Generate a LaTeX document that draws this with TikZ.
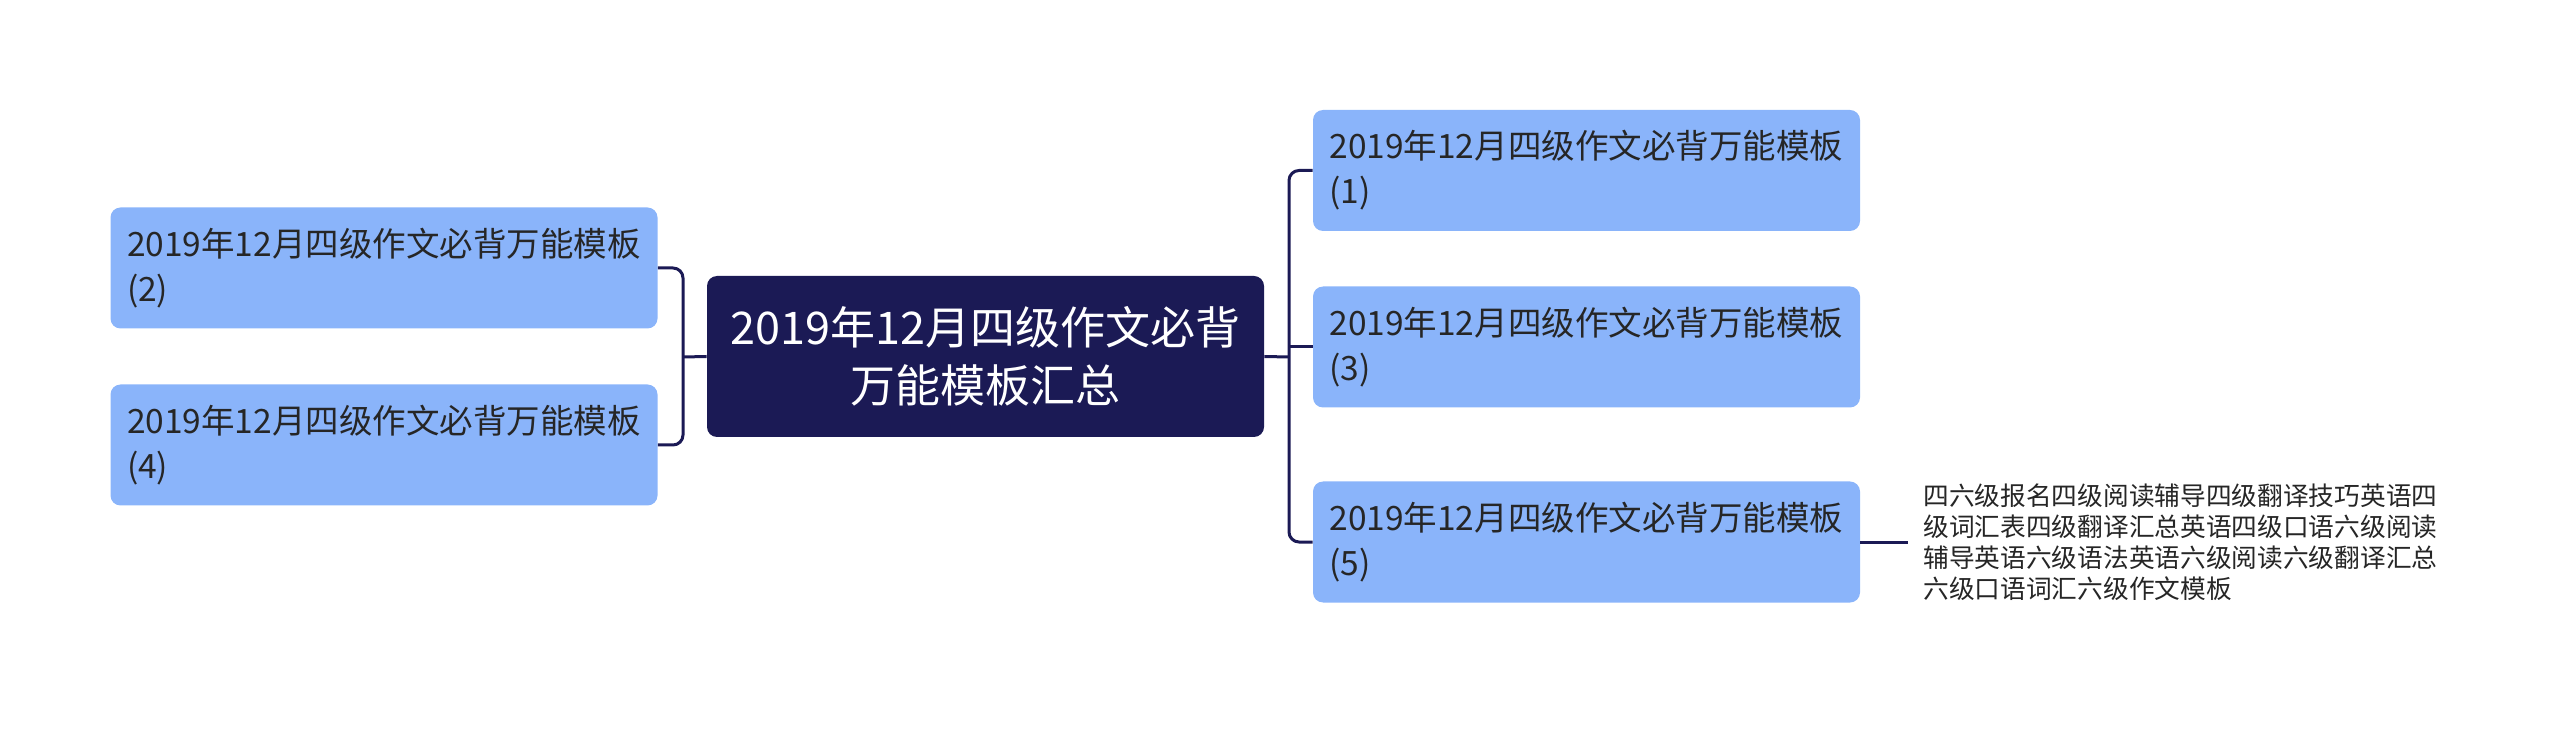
\documentclass[tikz,border=0pt]{standalone}
\usepackage{tikz}
\usepackage{fontspec}
\newfontfamily\cjk{Noto Sans CJK SC}
\definecolor{navy}{HTML}{1B1A55}
\definecolor{lightblue}{HTML}{8AB4FA}
\definecolor{inkgray}{HTML}{262626}

\begin{document}
\begin{tikzpicture}[x=0.5pt, y=-0.5pt,
  topicbox/.style={fill=navy, text=white, rounded corners=5pt, align=center,
    minimum width=278.5pt, minimum height=80.5pt, inner sep=0pt,
    font=\cjk\fontsize{22.5pt}{29pt}\selectfont},
  subbox/.style={fill=lightblue, text=inkgray, rounded corners=5pt, align=left,
    text width=257pt, inner xsep=8.25pt, inner ysep=0pt, minimum height=60.5pt,
    font=\cjk\fontsize{16.75pt}{22.5pt}\selectfont},
  leaftext/.style={text=inkgray, align=left, inner xsep=7.5pt, inner ysep=0pt,
    font=\cjk\fontsize{12.85pt}{15.5pt}\selectfont},
  conn/.style={navy, line width=1.5pt}]

\useasboundingbox (0, 0) rectangle (2560, 732);

% main topic
\node[topicbox] (topic) at (985.5, 356.5) {2019年12月四级作文必背\\万能模板汇总};

% right side
\node[subbox] (tpl1) at (1586.5, 170.5) {2019年12月四级作文必背万能模板\\(1)};
\node[subbox] (tpl3) at (1586.5, 347) {2019年12月四级作文必背万能模板\\(3)};
\node[subbox] (tpl5) at (1586.5, 542) {2019年12月四级作文必背万能模板\\(5)};

% left side
\node[subbox] (tpl2) at (384, 268) {2019年12月四级作文必背万能模板\\(2)};
\node[subbox] (tpl4) at (384, 445) {2019年12月四级作文必背万能模板\\(4)};

% leaf under (5)
\node[leaftext, anchor=west] (tags) at (1908, 542) {四六级报名四级阅读辅导四级翻译技巧英语四\\级词汇表四级翻译汇总英语四级口语六级阅读\\辅导英语六级语法英语六级阅读六级翻译汇总\\六级口语词汇六级作文模板};

\coordinate (rjoin) at (1289, 357);
\coordinate (ljoin) at (683, 357);

\draw[conn] (topic.east) -- (rjoin);
\draw[conn, rounded corners=5pt] (tpl1.west) -| (rjoin) |- (tpl5.west);
\draw[conn] (tpl3.west) -- (tpl3.west -| rjoin);

\draw[conn] (topic.west) -- (ljoin);
\draw[conn, rounded corners=5pt] (tpl2.east) -| (ljoin) |- (tpl4.east);

\draw[conn] (tpl5.east) -- (tags.west);

\end{tikzpicture}
\end{document}
